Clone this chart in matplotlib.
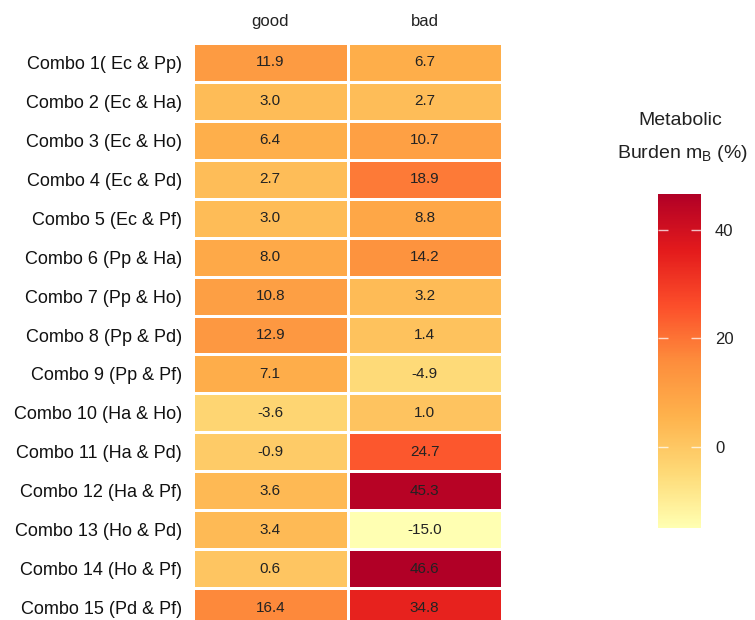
import numpy as np
import matplotlib
matplotlib.use('Agg')
import matplotlib.pyplot as plt
from matplotlib.colors import LinearSegmentedColormap

plt.rcParams['font.family'] = ['Liberation Sans', 'DejaVu Sans']
plt.rcParams['mathtext.default'] = 'regular'

combos = ['Combo 1( Ec & Pp)', 'Combo 2 (Ec & Ha)', 'Combo 3 (Ec & Ho)', 'Combo 4 (Ec & Pd)',
          'Combo 5 (Ec & Pf)', 'Combo 6 (Pp & Ha)', 'Combo 7 (Pp & Ho)', 'Combo 8 (Pp & Pd)',
          'Combo 9 (Pp & Pf)', 'Combo 10 (Ha & Ho)', 'Combo 11 (Ha & Pd)', 'Combo 12 (Ha & Pf)',
          'Combo 13 (Ho & Pd)', 'Combo 14 (Ho & Pf)', 'Combo 15 (Pd & Pf)']
conditions = ['good', 'bad']
good = [11.9, 3.0, 6.4, 2.7, 3.0, 8.0, 10.8, 12.9, 7.1, -3.6, -0.9, 3.6, 3.4, 0.6, 16.4]
bad = [6.7, 2.7, 10.7, 18.9, 8.8, 14.2, 3.2, 1.4, -4.9, 1.0, 24.7, 45.3, -15.0, 46.6, 34.8]
cbar_ticks = [0, 20, 40]

vals = np.column_stack([good, bad])
vmin, vmax = vals.min(), vals.max()

# 7-class YlOrRd ramp
cmap = LinearSegmentedColormap.from_list(
    'ylorrd7', ['#FFFFB2', '#FED976', '#FEB24C', '#FD8D3C', '#FC4E2A', '#E31A1C', '#B10026'])

fig = plt.figure(figsize=(7.55, 6.2), dpi=100)
ax = fig.add_axes([193 / 755, -7 / 620, 309 / 755, 584 / 620])

mesh = ax.pcolormesh(vals, cmap=cmap, vmin=vmin, vmax=vmax,
                     edgecolors='white', linewidth=1.8)
ax.set_xlim(0, 2)
ax.set_ylim(len(combos), 0)

for i in range(len(combos)):
    for j in range(2):
        ax.text(j + 0.5, i + 0.5, f'{vals[i, j]:.1f}', ha='center', va='center',
                fontsize=11, color='#222222')

ax.set_xticks(np.arange(2) + 0.5)
ax.set_xticklabels(conditions, fontsize=12, color='#222222')
ax.xaxis.tick_top()
ax.set_yticks(np.arange(len(combos)) + 0.5)
ax.set_yticklabels(combos, fontsize=13, color='#111111')
ax.tick_params(length=0, pad=8)
ax.tick_params(axis='x', pad=10)
for s in ax.spines.values():
    s.set_visible(False)

cax = fig.add_axes([658 / 755, 1 - 528 / 620, 43 / 755, 334 / 620])
cbar = fig.colorbar(mesh, cax=cax, ticks=cbar_ticks)
cbar.outline.set_visible(False)
cax.tick_params(axis='y', direction='in', length=7, width=1, color='#ffffffbb',
                left=True, right=True, labelsize=12, labelcolor='#222222', pad=10)

fig.text(680 / 755, 1 - 120 / 620, 'Metabolic', ha='center', va='center',
         fontsize=14, color='#222222')
fig.text(682 / 755, 1 - 154 / 620, 'Burden m$_B$ (%)', ha='center', va='center',
         fontsize=14, color='#222222')

fig.savefig('out.png', dpi=100)
